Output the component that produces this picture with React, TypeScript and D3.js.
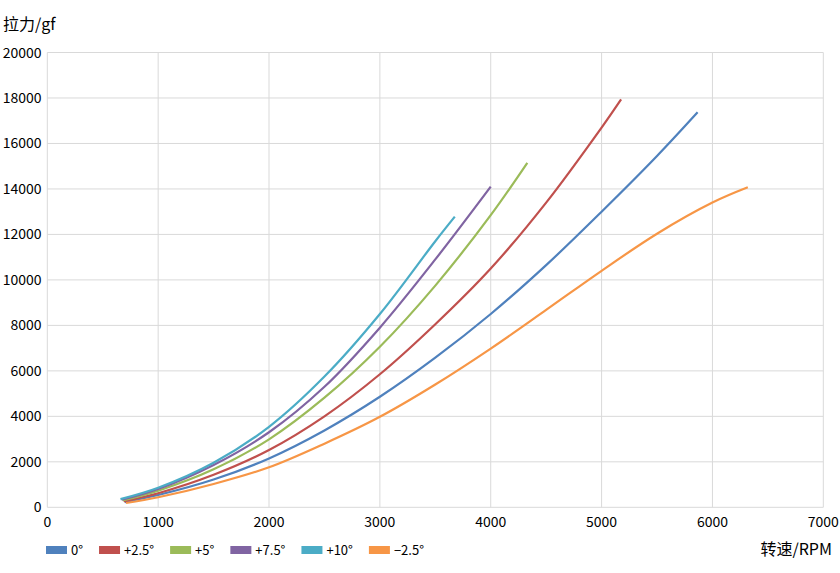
import { useEffect, useRef } from 'react';
import * as d3 from 'd3';

type Pt = [number, number];

// 转速 (RPM) -> 拉力 (gf)
const deg0: Pt[] = [
  [700, 230], [1000, 540], [1500, 1220], [2000, 2150], [2500, 3380], [3000, 4860],
  [3500, 6580], [4000, 8500], [4500, 10650], [5000, 13000], [5500, 15450], [5866, 17370],
];
const degP25: Pt[] = [
  [690, 260], [1000, 620], [1500, 1430], [2000, 2520], [2500, 4000], [3000, 5850],
  [3500, 8050], [4000, 10500], [4500, 13400], [5000, 16700], [5176, 17940],
];
const degP5: Pt[] = [
  [680, 300], [1000, 730], [1500, 1670], [2000, 2990], [2500, 4820], [3000, 7060],
  [3500, 9750], [4000, 12850], [4330, 15150],
];
const degP75: Pt[] = [
  [670, 330], [1000, 805], [1500, 1860], [2000, 3300], [2500, 5300], [3000, 7900],
  [3500, 10900], [4000, 14100],
];
const degP10: Pt[] = [
  [660, 360], [1000, 860], [1500, 1960], [2000, 3540], [2500, 5750], [3000, 8500],
  [3500, 11700], [3676, 12780],
];
const degM25: Pt[] = [
  [710, 190], [1000, 440], [1500, 1025], [2000, 1760], [2500, 2800], [3000, 3980],
  [3500, 5400], [4000, 6980], [4500, 8680], [5000, 10400], [5500, 12030], [6000, 13400],
  [6319, 14070],
];

const seriesNames = ['0°', '+2.5°', '+5°', '+7.5°', '+10°', '−2.5°'];
const seriesData = [deg0, degP25, degP5, degP75, degP10, degM25];
const seriesColors = ['#4F81BD', '#C0504D', '#9BBB59', '#8064A2', '#4BACC6', '#F79646'];

const xTicks = [0, 1000, 2000, 3000, 4000, 5000, 6000, 7000];
const yTicks = [0, 2000, 4000, 6000, 8000, 10000, 12000, 14000, 16000, 18000, 20000];

const W = 840;
const H = 573;
const FONT = '"Noto Sans CJK SC", "Noto Sans", sans-serif';

export default function App() {
  const svgRef = useRef<SVGSVGElement>(null);

  useEffect(() => {
    if (!svgRef.current) return;
    const svg = d3.select(svgRef.current);
    svg.selectAll('*').remove();

    const left = 47.3, right = 823.3, top = 52.5, bottom = 507.3;

    const x = d3.scaleLinear().domain([0, 7000]).range([left, right]);
    const y = d3.scaleLinear().domain([0, 20000]).range([bottom, top]);

    // grid
    const grid = svg.append('g').attr('stroke', '#d9d9d9').attr('stroke-width', 1);
    grid.selectAll('.vg')
      .data(xTicks)
      .enter().append('line')
      .attr('x1', d => x(d)).attr('x2', d => x(d))
      .attr('y1', top).attr('y2', bottom);
    grid.selectAll('.hg')
      .data(yTicks)
      .enter().append('line')
      .attr('x1', left).attr('x2', right)
      .attr('y1', d => y(d)).attr('y2', d => y(d));

    // tick labels
    svg.append('g')
      .selectAll('text')
      .data(yTicks)
      .enter().append('text')
      .attr('x', 41.5)
      .attr('y', d => y(d) + 5)
      .attr('text-anchor', 'end')
      .style('font-family', FONT)
      .style('font-size', '14px')
      .attr('fill', '#000')
      .text(d => String(d));

    svg.append('g')
      .selectAll('text')
      .data(xTicks)
      .enter().append('text')
      .attr('x', d => x(d))
      .attr('y', 527)
      .attr('text-anchor', 'middle')
      .style('font-family', FONT)
      .style('font-size', '14px')
      .attr('fill', '#000')
      .text(d => String(d));

    // curves
    const line = d3.line<Pt>()
      .x(d => x(d[0]))
      .y(d => y(d[1]))
      .curve(d3.curveCatmullRom.alpha(0.5));

    seriesData.forEach((data, i) => {
      svg.append('path')
        .datum(data)
        .attr('fill', 'none')
        .attr('stroke', seriesColors[i])
        .attr('stroke-width', 2.2)
        .attr('d', line);
    });

    // axis titles
    svg.append('text')
      .attr('x', 3)
      .attr('y', 30)
      .style('font-family', FONT)
      .style('font-size', '16px')
      .attr('fill', '#000')
      .text('拉力/gf');

    svg.append('text')
      .attr('x', 832)
      .attr('y', 555)
      .attr('text-anchor', 'end')
      .style('font-family', FONT)
      .style('font-size', '16px')
      .attr('fill', '#000')
      .text('转速/RPM');

    // legend
    const legend = svg.append('g');
    let cx = 46;
    seriesNames.forEach((name, i) => {
      const item = legend.append('g').attr('transform', `translate(${cx},0)`);
      item.append('rect')
        .attr('x', 0).attr('y', 546)
        .attr('width', 21).attr('height', 8)
        .attr('fill', seriesColors[i]);
      const t = item.append('text')
        .attr('x', 25)
        .attr('y', 555)
        .style('font-family', FONT)
        .style('font-size', '13px')
        .attr('fill', '#000')
        .text(name);
      const w = (t.node() as SVGTextElement).getComputedTextLength();
      cx += 25 + w + 16;
    });
  }, []);

  return (
    <svg
      ref={svgRef}
      width={W}
      height={H}
      style={{ position: 'absolute', left: 0, top: 0, background: '#fff' }}
    />
  );
}
